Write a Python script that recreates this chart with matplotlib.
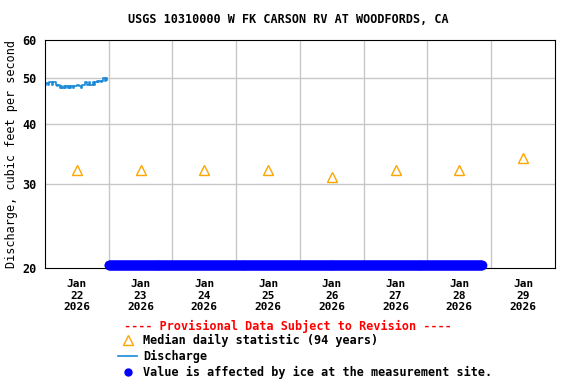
"""
    USGS discharge chart, W Fk Carson Rv at Woodfords
"""

import numpy as np
import pandas as pd
import matplotlib
matplotlib.use("Agg")
import matplotlib.pyplot as plt
from matplotlib.lines import Line2D
from matplotlib.ticker import FixedLocator, NullLocator, FixedFormatter

# discharge, 30-minute readings over Jan 22
discharge_start = "2026-01-22 00:00"
discharge = [48.4, 48.7, 48.4, 48.9, 48.9, 48.4, 48.9, 48.9, 48.4, 48.0,
             48.4, 47.6, 48.0, 47.6, 48.0, 47.6, 48.0, 47.6, 48.0, 47.6,
             48.0, 47.6, 48.0, 48.0, 48.4, 48.4, 48.0, 47.6, 48.4, 48.4,
             48.9, 48.9, 48.4, 48.9, 48.4, 48.4, 48.9, 48.4, 48.9, 49.3,
             48.9, 49.3, 48.9, 49.3, 50.0, 49.3, 50.0, 49.5]

# ice affected period (values plotted on the bottom axis)
ice_start = "2026-01-23 00:00"
ice_end = "2026-01-28 20:30"
ice_level = 20.3

# median daily statistic (94 years)
median_days = ["2026-01-22", "2026-01-23", "2026-01-24", "2026-01-25",
               "2026-01-26", "2026-01-27", "2026-01-28", "2026-01-29"]
median_values = [32, 32, 32, 32, 31, 32, 32, 34]

y_ticks = [20, 30, 40, 50, 60]

plt.rcParams["font.family"] = "DejaVu Sans Mono"
plt.rcParams["font.weight"] = "bold"

fig = plt.figure(figsize=(5.76, 3.84), dpi=100)
ax = fig.add_axes([0.078, 0.302, 0.8855, 0.594])

t_dis = pd.date_range(discharge_start, periods=len(discharge), freq="30min")
ax.step(t_dis, discharge, where="post", color="#1a8ad8", lw=1.2)

t_ice = pd.date_range(ice_start, ice_end, freq="15min")
ax.plot(t_ice, np.full(len(t_ice), ice_level), "o", color="#0000ff",
        ms=6, clip_on=False, zorder=4)

t_med = pd.to_datetime(median_days) + pd.Timedelta(hours=12)
ax.plot(t_med, median_values, "^", mfc="none", mec="#ffa500", ms=7, mew=1)

ax.set_yscale("log")
ax.set_ylim(20, 60)
ax.yaxis.set_major_locator(FixedLocator(y_ticks))
ax.yaxis.set_major_formatter(FixedFormatter([str(v) for v in y_ticks]))
ax.yaxis.set_minor_locator(NullLocator())
ax.set_xlim(pd.Timestamp("2026-01-22"), pd.Timestamp("2026-01-30"))

day_edges = pd.date_range("2026-01-23", "2026-01-29", freq="D")
for d in day_edges:
    ax.axvline(d, color="#c8c8c8", lw=1, zorder=0)
for v in y_ticks[1:-1]:
    ax.axhline(v, color="#c8c8c8", lw=1, zorder=0)

ax.set_xticks(t_med)
ax.set_xticklabels([f"Jan\n{d.day}\n{d.year}" for d in t_med])
ax.tick_params(length=0, labelsize=8, pad=8)
ax.tick_params(axis="y", pad=6, labelsize=8.5)
ax.set_ylabel("Discharge, cubic feet per second", fontsize=8.5, labelpad=3)

fig.text(0.5, 0.95, "USGS 10310000 W FK CARSON RV AT WOODFORDS, CA",
         ha="center", va="center", fontsize=8.5)
fig.text(0.5, 0.151, "---- Provisional Data Subject to Revision ----",
         ha="center", va="center", color="red", fontsize=8.5)

handles = [Line2D([], [], ls="none", marker="^", mfc="none", mec="#ffa500", ms=7),
           Line2D([], [], color="#1a8ad8", lw=1.2),
           Line2D([], [], ls="none", marker="o", color="#0000ff", ms=5)]
labels = ["Median daily statistic (94 years)", "Discharge",
          "Value is affected by ice at the measurement site."]
fig.legend(handles, labels, loc="upper left", bbox_to_anchor=(0.205, 0.131),
           frameon=False, fontsize=8.5, handlelength=1.6, handletextpad=0.5,
           labelspacing=0.25, borderpad=0, borderaxespad=0)

plt.savefig("out.png", dpi=100)
plt.close()
